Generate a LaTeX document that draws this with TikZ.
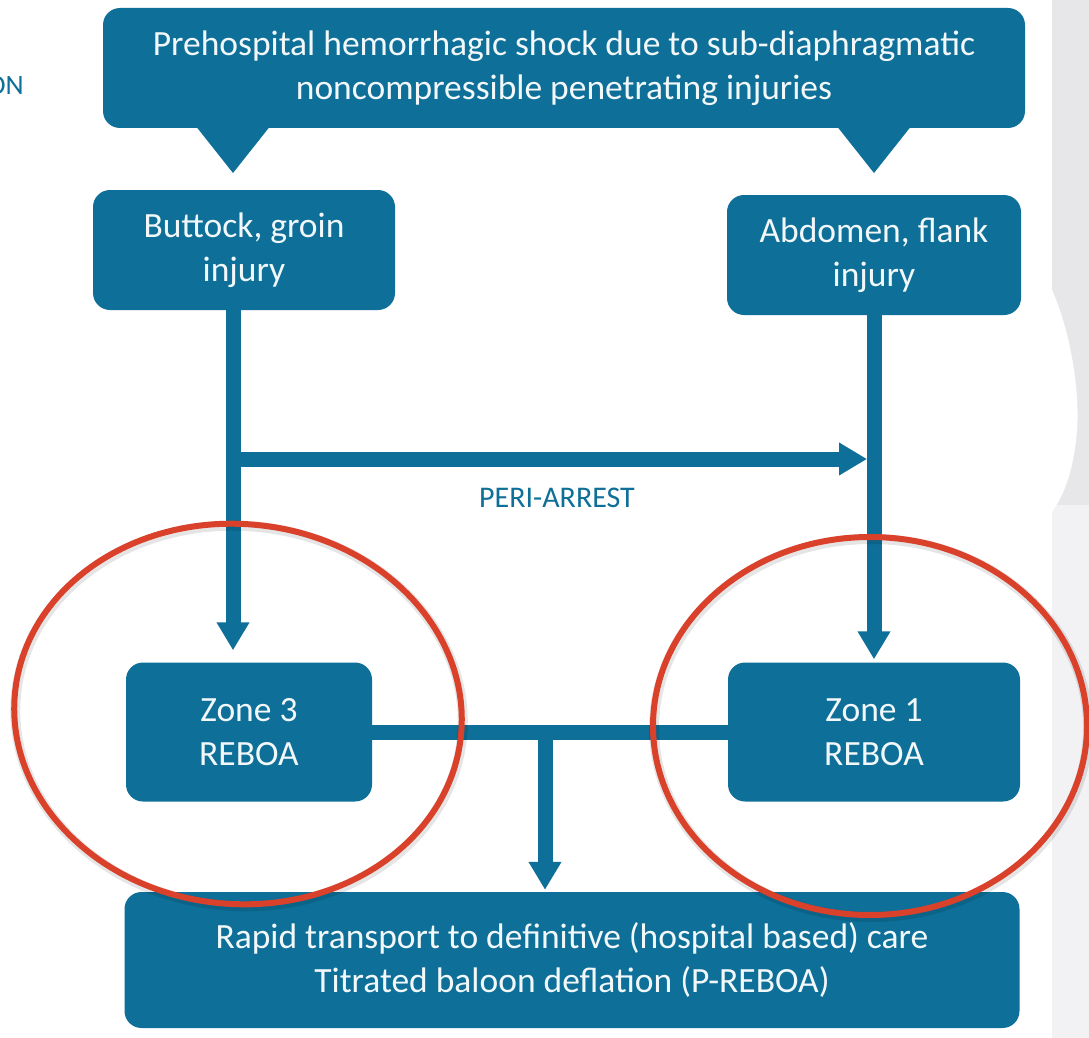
\documentclass[tikz,border=0pt]{standalone}
\usepackage{fontspec}
\setmainfont{Carlito}
\usetikzlibrary{arrows.meta,calc}
\definecolor{boxblue}{HTML}{0E6F98}
\definecolor{boxtext}{HTML}{F2F8FA}
\definecolor{ringred}{HTML}{D9412B}
\definecolor{stripgray}{HTML}{E7E7EA}
\definecolor{striplight}{HTML}{F2F2F4}
\tikzset{
  box/.style={fill=boxblue, rounded corners=17pt, text=boxtext, align=center,
    inner sep=0pt, font=\fontsize{35.5}{44}\selectfont},
  flow/.style={draw=boxblue, line width=15pt},
  flowtip/.style={flow, -{Triangle[length=28pt,width=31pt]}},
  ring/.style={draw=ringred, line width=6pt},
  ringshadow/.style={draw=black, opacity=0.10, line width=10pt},
}
\begin{document}
\begin{tikzpicture}[x=1pt,y=-1pt]
  \useasboundingbox (0,0) rectangle (1089,1038);
  \clip (0,0) rectangle (1089,1038);
  \fill[white] (0,0) rectangle (1089,1038);

  % side strip with its light swirl
  \fill[stripgray] (1052,0) rectangle (1089,1038);
  \fill[striplight] (1052,505) rectangle (1089,1038);
  \fill[white] (1052,290) .. controls (1070,330) and (1080,390) .. (1077,430)
     .. controls (1074,470) and (1064,495) .. (1052,512) -- cycle;

  % partly cut heading at the left margin
  \node[anchor=east, text=boxblue, font=\fontsize{28}{32}\selectfont, inner sep=0pt]
    (hdr) at (24,86) {ON};

  % boxes
  \node[box, minimum width=922pt, minimum height=120pt] (top) at (564,68)
    {Prehospital hemorrhagic shock due to sub-diaphragmatic\\noncompressible penetrating injuries};
  \fill[boxblue] (191,120) -- (275,120) -- (233,173) -- cycle;
  \fill[boxblue] (832,120) -- (916,120) -- (874,173) -- cycle;

  \node[box, minimum width=302pt, minimum height=120pt] (butt) at (244,250)
    {Buttock, groin\\injury};
  \node[box, minimum width=294pt, minimum height=120pt] (abd) at (874,255)
    {Abdomen, flank\\injury};
  \node[box, minimum width=246pt, minimum height=139pt] (z3) at (249,732)
    {Zone 3\\REBOA};
  \node[box, minimum width=292pt, minimum height=139pt] (z1) at (874,732)
    {Zone 1\\REBOA};
  \node[box, minimum width=895pt, minimum height=136pt] (care) at (572,960)
    {Rapid transport to definitive (hospital based) care\\Titrated baloon deflation (P-REBOA)};

  % connector guide positions
  \coordinate (lx) at (233,0);
  \coordinate (rx) at (874,0);
  \coordinate (mx) at (545,0);
  \coordinate (py) at (0,459);

  % connectors
  \draw[flowtip] (butt.south -| lx) -- ($(z3.north -| lx)+(0,-12)$);
  \draw[flowtip] (abd.south -| rx) -- ($(z1.north -| rx)+(0,-3)$);
  \draw[flowtip] (lx |- py) -- ($(rx |- py)+(-7,0)$);
  \draw[flow] (z3.east) -- (z1.west);
  \draw[flowtip] ($(z3.east -| mx)$) -- ($(care.north -| mx)+(0,-2)$);

  \node[text=boxblue, font=\fontsize{30}{34}\selectfont] (peri) at (557,498) {PERI-ARREST};

  % red rings
  \draw[ringshadow] (239,716) ellipse[x radius=224, y radius=190, rotate=-5];
  \draw[ringshadow] (871,728) ellipse[x radius=217, y radius=189];
  \draw[ring] (238,714) ellipse[x radius=224, y radius=190, rotate=-5];
  \draw[ring] (870,726) ellipse[x radius=217, y radius=189];
\end{tikzpicture}
\end{document}
